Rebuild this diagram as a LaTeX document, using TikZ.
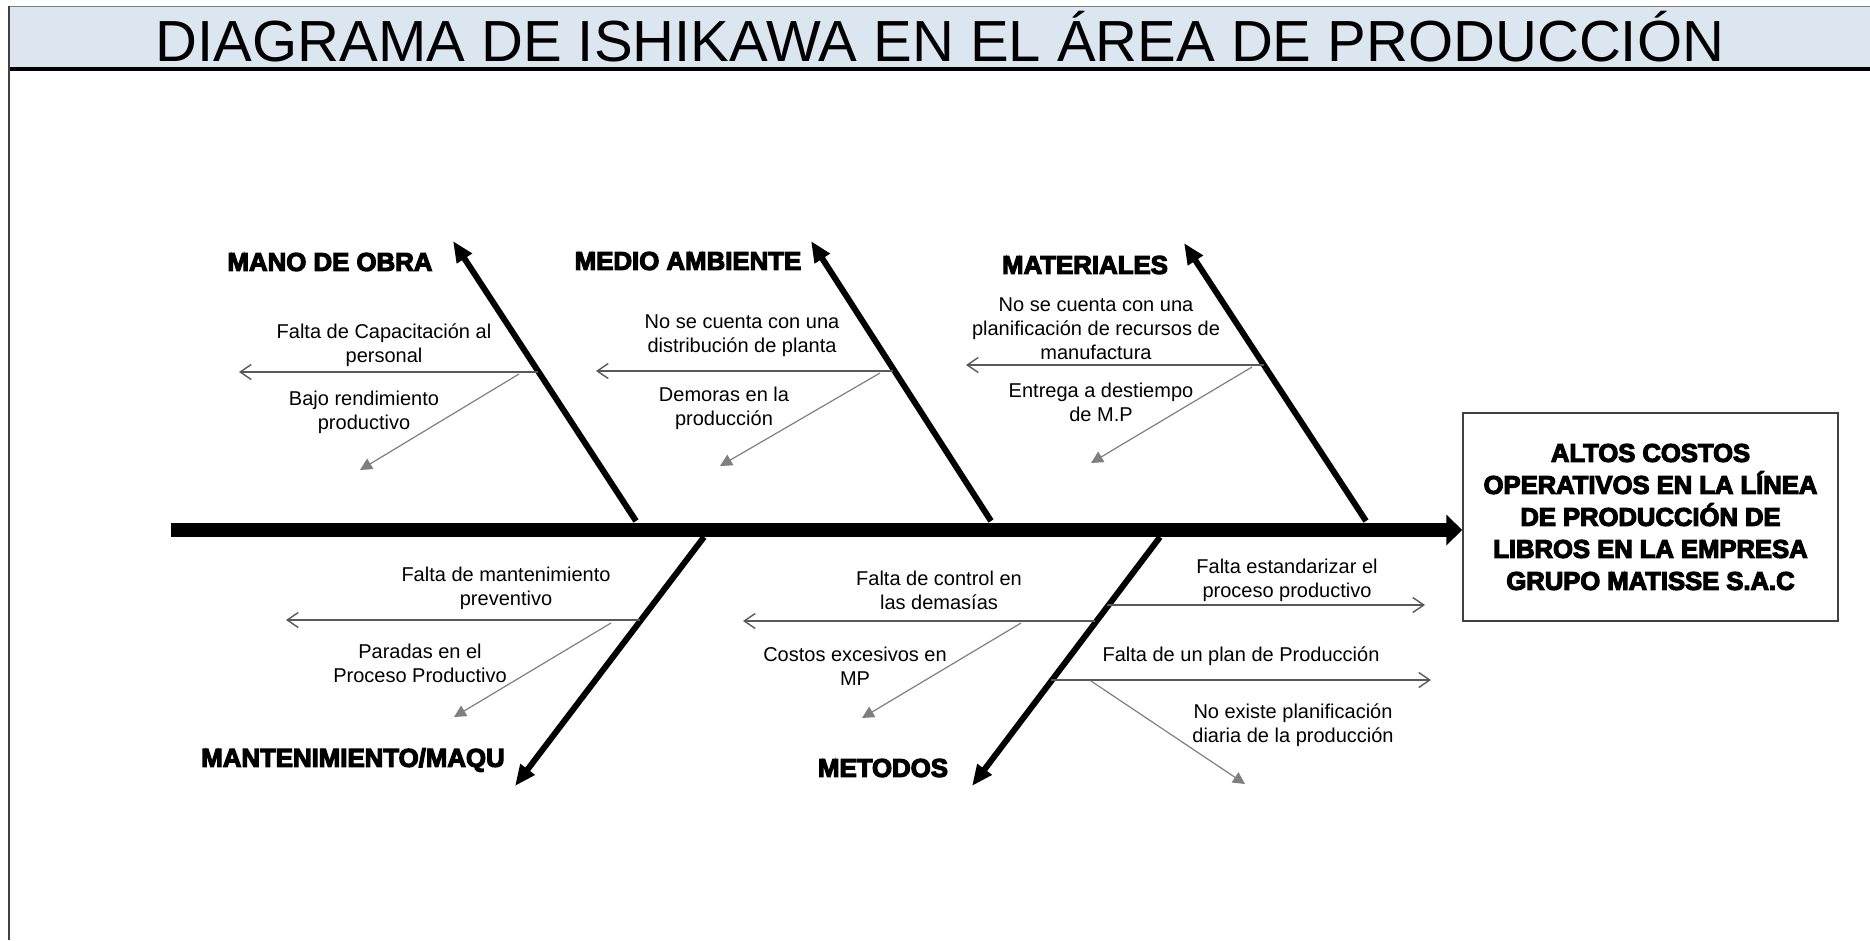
\documentclass[tikz,border=0pt]{standalone}
\usepackage{fontspec}
\setmainfont{Liberation Sans}
\newfontfamily\heavyfont{Liberation Sans}[BoldFeatures={FakeBold=4.5}]
\usetikzlibrary{arrows.meta}
\definecolor{titlebg}{HTML}{DCE6F1}
\definecolor{branchgray}{HTML}{595959}
\definecolor{diaggray}{HTML}{7F7F7F}
\definecolor{bordergray}{HTML}{404040}
\tikzset{
  spineline/.style={line width=14pt, -{Triangle[length=16pt,width=30pt]}},
  bone/.style={line width=6pt, -{Triangle[length=21pt,width=17pt]}},
  hbranch/.style={draw=branchgray, line width=1.4pt, -{Straight Barb[length=11pt,width=15pt]}},
  dbranch/.style={draw=diaggray, line width=1.2pt, -{Triangle[length=12pt,width=12pt]}},
  cause/.style={font=\fontsize{20}{24}\selectfont, align=center, inner sep=0pt},
  category/.style={font=\heavyfont\bfseries\fontsize{25.8}{30}\selectfont, inner sep=0pt},
  effect/.style={draw=bordergray, line width=1.5pt, minimum width=375pt, minimum height=208pt,
    align=center, inner sep=0pt, font=\heavyfont\bfseries\fontsize{25.6}{32}\selectfont},
}
\begin{document}
\begin{tikzpicture}[x=1pt,y=-1pt]
\useasboundingbox (0,0) rectangle (1870,940);
% title bar
\path[fill=titlebg] (9,6) rectangle (1870,68);
\draw[gray, line width=1pt] (9,6) -- (1870,6);
\draw[black, line width=4pt] (9,69) -- (1870,69);
\draw[bordergray, line width=2pt] (9,6) -- (9,940);
\node[anchor=base, inner sep=0pt, font=\fontsize{58}{60}\selectfont] (title) at (940,61) {DIAGRAMA DE ISHIKAWA EN EL ÁREA DE PRODUCCIÓN};

% effect box
\node[effect] (effect) at (1650.5,517) {ALTOS COSTOS\\OPERATIVOS EN LA LÍNEA\\DE PRODUCCIÓN DE\\LIBROS EN LA EMPRESA\\GRUPO MATISSE S.A.C};

% spine
\coordinate (spineL) at (171,530);
\draw[spineline] (spineL) -- (spineL -| effect.west);

% bones
\coordinate (b1s) at (636,521); \coordinate (b1t) at (453,241);
\coordinate (b2s) at (991,521); \coordinate (b2t) at (811,241);
\coordinate (b3s) at (1366,521); \coordinate (b3t) at (1184,243);
\coordinate (b4s) at (704,537); \coordinate (b4t) at (515,786);
\coordinate (b5s) at (1160,537); \coordinate (b5t) at (972,786);
\draw[bone] (b1s) -- (b1t);
\draw[bone] (b2s) -- (b2t);
\draw[bone] (b3s) -- (b3t);
\draw[bone] (b4s) -- (b4t);
\draw[bone] (b5s) -- (b5t);

% category labels
\node[category] (L1) at (330,262) {MANO DE OBRA};
\node[category] (L2) at (688,261) {MEDIO AMBIENTE};
\node[category] (L3) at (1085,265) {MATERIALES};
\node[category] (L4) at (353,760) {MANTENIMIENTO/MAQU};
\node[category] (L5) at (883,768) {METODOS};

% branch coordinates
\coordinate (h1s) at (538,372); \coordinate (h1e) at (239,372);
\coordinate (d1s) at (519,374); \coordinate (d1e) at (360,470);
\coordinate (h2s) at (893,371); \coordinate (h2e) at (596,371);
\coordinate (d2s) at (880,373); \coordinate (d2e) at (720,466);
\coordinate (h3s) at (1264,365); \coordinate (h3e) at (966,365);
\coordinate (d3s) at (1252,367); \coordinate (d3e) at (1091,463);
\coordinate (h4s) at (640,620); \coordinate (h4e) at (286,620);
\coordinate (d4s) at (611,623); \coordinate (d4e) at (454,717);
\coordinate (h5as) at (1095,621); \coordinate (h5ae) at (743,621);
\coordinate (d5bs) at (1021,623); \coordinate (d5be) at (862,718);
\coordinate (h5cs) at (1107,605); \coordinate (h5ce) at (1425,605);
\coordinate (h5ds) at (1051,680); \coordinate (h5de) at (1431,680);
\coordinate (d5es) at (1091,681); \coordinate (d5ee) at (1245,784);

\draw[hbranch] (h1s) -- (h1e);
\draw[dbranch] (d1s) -- (d1e);
\draw[hbranch] (h2s) -- (h2e);
\draw[dbranch] (d2s) -- (d2e);
\draw[hbranch] (h3s) -- (h3e);
\draw[dbranch] (d3s) -- (d3e);
\draw[hbranch] (h4s) -- (h4e);
\draw[dbranch] (d4s) -- (d4e);
\draw[hbranch] (h5as) -- (h5ae);
\draw[dbranch] (d5bs) -- (d5be);
\draw[hbranch] (h5cs) -- (h5ce);
\draw[hbranch] (h5ds) -- (h5de);
\draw[dbranch] (d5es) -- (d5ee);

% cause texts
\node[cause] (t1a) at (384,345) {Falta de Capacitación al\\personal};
\node[cause] (t1b) at (364,412) {Bajo rendimiento\\productivo};
\node[cause] (t2a) at (742,336) {No se cuenta con una\\distribución de planta};
\node[cause] (t2b) at (724,408) {Demoras en la\\producción};
\node[cause] (t3a) at (1096,329) {No se cuenta con una\\planificación de recursos de\\manufactura};
\node[cause] (t3b) at (1101,402) {Entrega a destiempo\\de M.P};
\node[cause] (t4a) at (506,588) {Falta de mantenimiento\\preventivo};
\node[cause] (t4b) at (420,663) {Paradas en el\\Proceso Productivo};
\node[cause] (t5a) at (939,590) {Falta de control en\\las demasías};
\node[cause] (t5b) at (855,666) {Costos excesivos en\\MP};
\node[cause] (t5c) at (1287,580) {Falta estandarizar el\\proceso productivo};
\node[cause] (t5d) at (1241,656) {Falta de un plan de Producción};
\node[cause] (t5e) at (1293,725) {No existe planificación\\diaria de la producción};
\end{tikzpicture}
\end{document}
